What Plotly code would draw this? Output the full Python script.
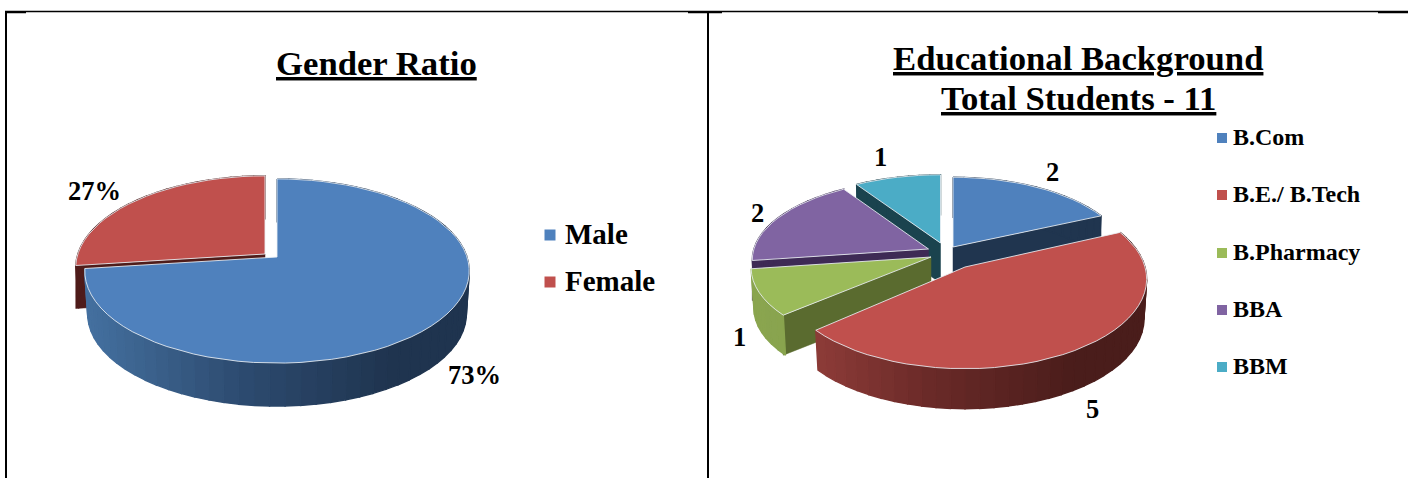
import math
import plotly.graph_objects as go

# ---- data ----
gender_labels = ["Male", "Female"]
gender_values = [73, 27]
edu_labels = ["B.Com", "B.E./ B.Tech", "B.Pharmacy", "BBA", "BBM"]
edu_values = [2, 5, 1, 2, 1]
title_left = "Gender Ratio"
title_right = ["Educational Background", "Total Students - 11"]

# ---- styles ----
TOP = {"Male": "#4f81bd", "Female": "#c0504d", "B.Com": "#4f81bd", "B.E./ B.Tech": "#c0504d",
       "B.Pharmacy": "#9bbb59", "BBA": "#8064a2", "BBM": "#4bacc6"}
RADIAL = {"Female": "#4f1c1a", "B.Com": "#20354f", "B.Pharmacy": "#5a6b2f", "BBA": "#3e2a55", "BBM": "#1a434e"}
WALL = {"Male": ["#44709f", "#2d4b70", "#1f344f"], "Female": ["#4f1c1a"] * 3,
        "B.Com": ["#20354f"] * 3, "B.E./ B.Tech": ["#96403c", "#6a2a28", "#4a1d1b"],
        "B.Pharmacy": ["#8aa54f", "#84a04c", "#7e9845"], "BBA": ["#3e2a55"] * 3, "BBM": ["#1a434e"] * 3}
FONT = "Liberation Serif"

# projection of each chart: half axes, perspective, depth
LEFT_P = dict(A=190, B=90, k=0.152, D=43)
RIGHT_P = dict(A=180, B=88, k=0.135, D=40)
# slice placement: apex px and per-slice scale
PLACE = {"Male": (277, 257, 1, 1), "Female": (265, 254, .985, 1),
         "B.Com": (953, 247, .955, .90), "B.E./ B.Tech": (965, 267, 1, 1),
         "B.Pharmacy": (931, 257, .99, .92), "BBA": (928.5, 249, .97, .90), "BBM": (940.5, 243, .96, .88)}


def angles(values):
    total = sum(values)
    out, acc = [], 0
    for v in values:
        out.append((acc / total * 2 * math.pi, (acc + v) / total * 2 * math.pi))
        acc += v
    return out


def rim(t, name, p):
    ax, ay, sx, sy = PLACE[name]
    s, c = math.sin(t), math.cos(t)
    w = 1 + p["k"] * c
    return ax + sx * p["A"] * s / w, ay - sy * p["B"] * c / w


def lerp_hex(cols, t):
    t = max(0, min(1, t)) * (len(cols) - 1)
    i = min(int(t), len(cols) - 2)
    f = t - i
    a = [int(cols[i][j:j + 2], 16) for j in (1, 3, 5)]
    b = [int(cols[i + 1][j:j + 2], 16) for j in (1, 3, 5)]
    return "rgb(%d,%d,%d)" % tuple(round(a[n] + (b[n] - a[n]) * f) for n in range(3))


fig = go.Figure()


def poly(xs, ys, fill, line=None, lw=1.4):
    fig.add_trace(go.Scatter(x=xs + xs[:1], y=ys + ys[:1], mode="lines", fill="toself", fillcolor=fill,
                             line=dict(color=line or fill, width=lw), hoverinfo="skip", showlegend=False))


def slice3d(name, a0, a1, p, radial_angle=None):
    ax, ay, *_ = PLACE[name]
    D = p["D"]
    n = max(6, int((a1 - a0) / (2 * math.pi) * 90))
    ts = [a0 + (a1 - a0) * i / n for i in range(n + 1)]
    pts = [rim(t, name, p) for t in ts]
    # radial side wall
    if radial_angle is not None:
        rx, ry = rim(radial_angle, name, p)
        poly([ax, rx, rx, ax], [ay, ry, ry + D, ay + D], RADIAL[name], lw=0.5)
    # outer wall with shading
    x0, x1 = ax - p["A"], ax + p["A"]
    for i in range(n):
        (xa, ya), (xb, yb) = pts[i], pts[i + 1]
        tm = ((xa + xb) / 2 - x0) / (x1 - x0)
        poly([xa, xb, ax + (xb - ax) * .985, ax + (xa - ax) * .985], [ya, yb, yb + D, ya + D], lerp_hex(WALL[name], tm / .8))
    # top
    poly([ax] + [q[0] for q in pts], [ay] + [q[1] for q in pts], TOP[name], "rgba(235,240,245,0.85)", 1)


ga = angles(gender_values)
ea = angles(edu_values)

# back-to-front drawing
slice3d("Female", ga[1][0], ga[1][1], LEFT_P, radial_angle=ga[1][0])
slice3d("Male", ga[0][0], ga[0][1], LEFT_P)
slice3d("BBM", ea[4][0], ea[4][1], RIGHT_P, radial_angle=ea[4][0])
slice3d("B.Com", ea[0][0], ea[0][1], RIGHT_P, radial_angle=ea[0][1])
slice3d("BBA", ea[3][0], ea[3][1], RIGHT_P, radial_angle=ea[3][0])
slice3d("B.Pharmacy", ea[2][0], ea[2][1], RIGHT_P, radial_angle=ea[2][0])
slice3d("B.E./ B.Tech", ea[1][0], ea[1][1], RIGHT_P)

ann = []


def text(x, y, s, size, anchor="center", under=False):
    f = dict(family=FONT, size=size, color="#000000")
    if under:
        f["lineposition"] = "under"
    ann.append(dict(x=x, y=y, text="<b>%s</b>" % s, xref="x", yref="y", showarrow=False, xanchor=anchor,
                    yanchor="middle", font=f))


text(376.5, 63, title_left, 34.7, under=True)
text(1078, 58, title_right[0], 34.7, under=True)
text(1078, 98, title_right[1], 34.7, under=True)

tot = sum(gender_values)
for pos, v in zip([(474, 375), (94, 191)], gender_values):
    text(pos[0], pos[1], "%d%%" % round(v / tot * 100), 26.5)
for pos, v in zip([(1052, 172), (1092, 409), (739, 337), (757, 213), (880, 157)], edu_values):
    text(pos[0], pos[1], str(v), 26.5)

# legends
for (y, name) in zip([235, 282], gender_labels):
    fig.add_trace(go.Scatter(x=[550], y=[y], mode="markers", marker=dict(symbol="square", size=11, color=TOP[name]),
                             hoverinfo="skip", showlegend=False))
    text(563, y - 1, name, 29, anchor="left")
for (y, name) in zip([138, 195, 253, 310, 367], edu_labels):
    fig.add_trace(go.Scatter(x=[1222], y=[y], mode="markers", marker=dict(symbol="square", size=10, color=TOP[name]),
                             hoverinfo="skip", showlegend=False))
    text(1231, y - 1, name, 24, anchor="left")

# frame of the document table
shapes = []
for x0, y0, x1, y1, w in [(5, 11.5, 1408, 11.5, 1.5), (6, 11, 6, 478, 2), (708, 11, 708, 478, 2),
                          (5, 12.5, 26, 12.5, 1.5), (688, 12.5, 722, 12.5, 1.5), (1378, 12.5, 1408, 12.5, 1.5)]:
    shapes.append(dict(type="line", x0=x0, y0=y0, x1=x1, y1=y1, xref="x", yref="y", line=dict(color="#000000", width=w)))

fig.update_layout(width=1408, height=478, margin=dict(l=0, r=0, t=0, b=0), paper_bgcolor="white", plot_bgcolor="white",
                  xaxis=dict(range=[0, 1408], visible=False, fixedrange=True),
                  yaxis=dict(range=[478, 0], visible=False, fixedrange=True),
                  annotations=ann, shapes=shapes, showlegend=False)
fig.write_html("out.html", config={"displayModeBar": False},
               post_script="document.body.style.margin='0';document.documentElement.style.overflow='hidden';")
